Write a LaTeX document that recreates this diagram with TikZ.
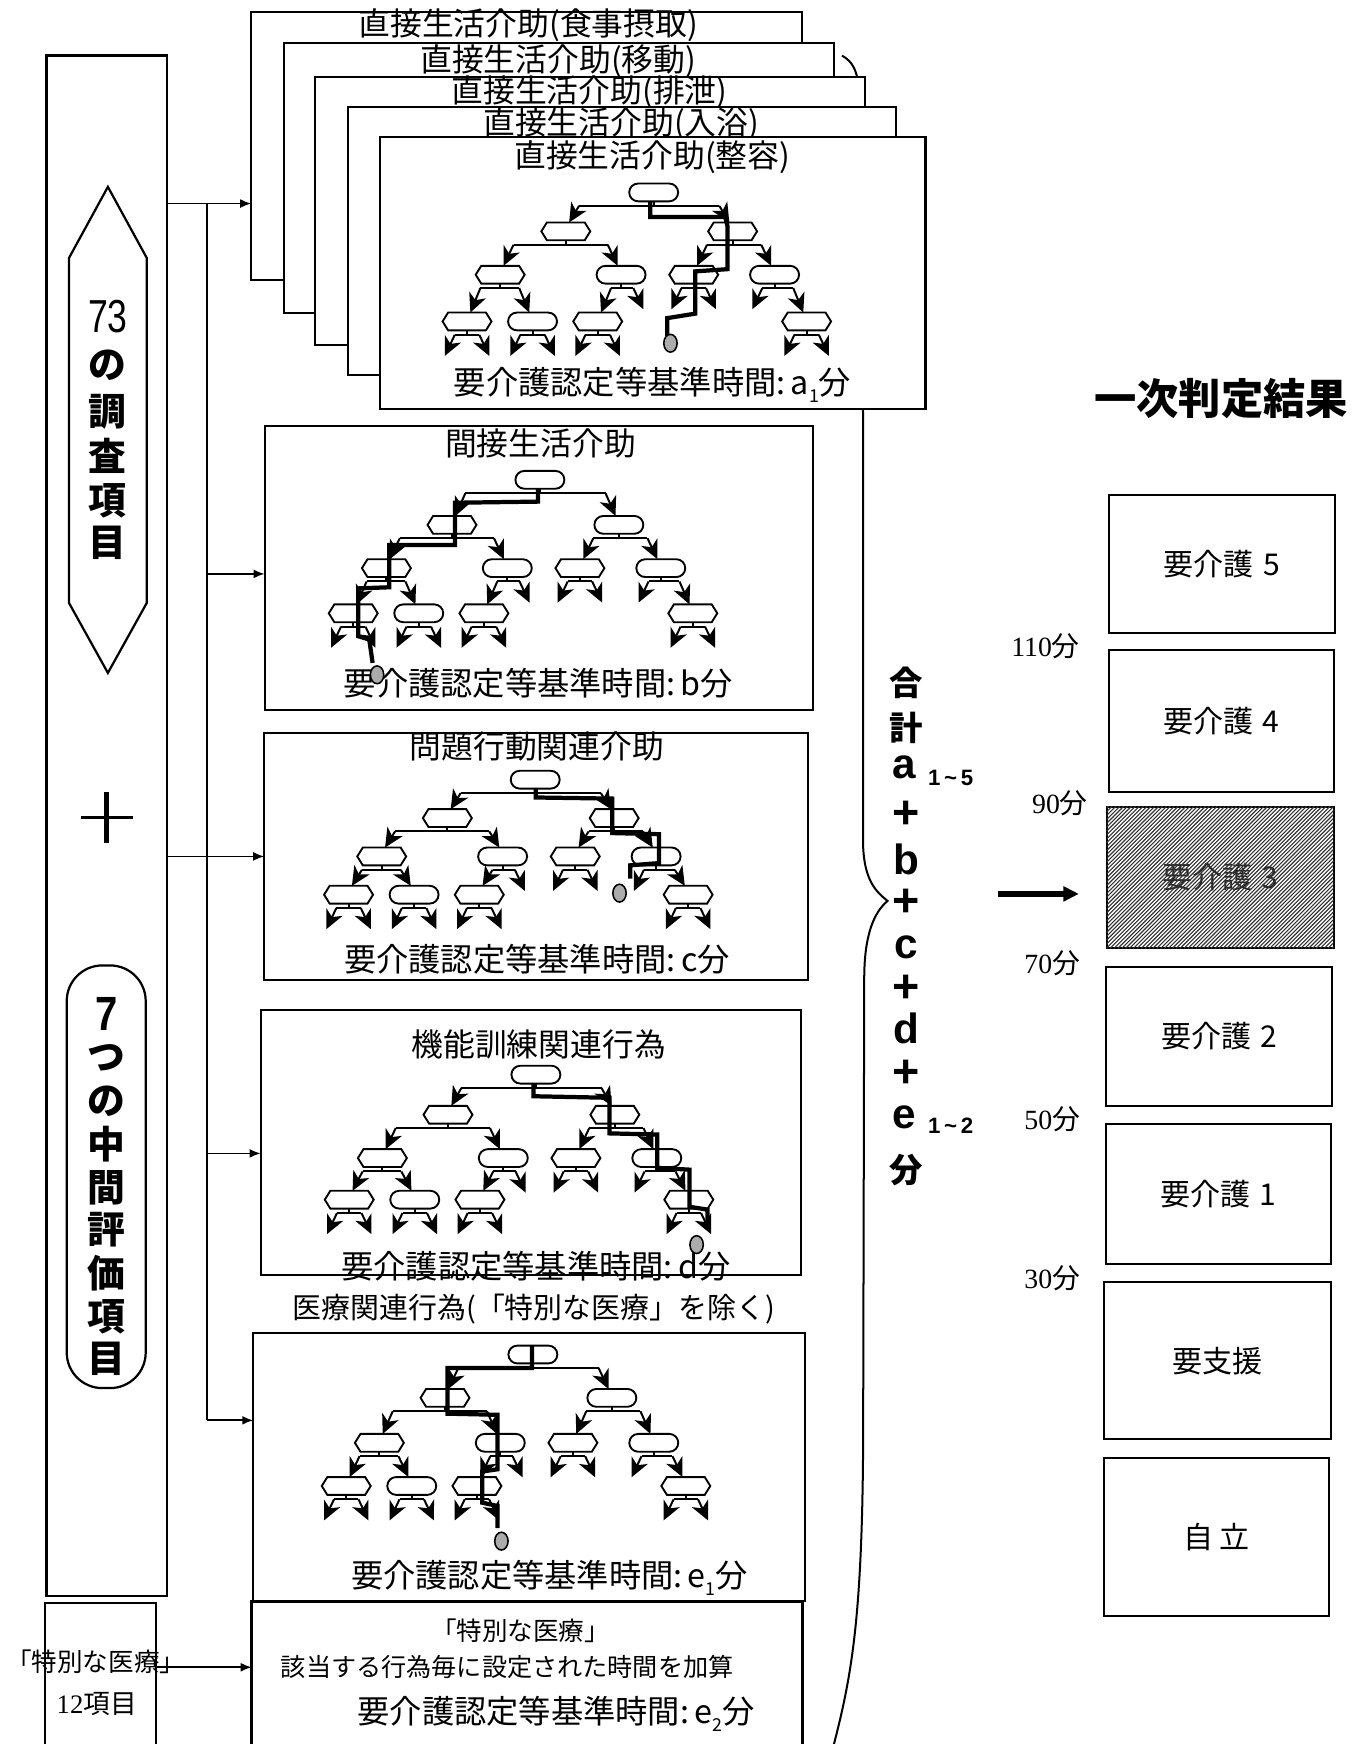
\documentclass[tikz,border=0pt]{standalone}
\usepackage{fontspec}
\usepackage{graphicx}
\setmainfont{Noto Sans CJK JP}
\newfontfamily\lsans{Liberation Sans}
\newfontfamily\lserif{Liberation Serif}
\usetikzlibrary{arrows.meta,fit}
\newcommand\myfs[1]{\fontsize{#1}{#1}\selectfont}
\newcommand\subn[1]{\raisebox{-0.45ex}{\myfs{8}#1}}

\tikzset{
 tl/.style={line width=0.9pt},
 tarr/.style={line width=0.9pt,-{Stealth[length=8.5pt,width=8pt,inset=2.5pt]}},
 hexn/.pic={\draw[line width=0.85pt,fill=white] (-22,0) -- (-17,-8) -- (17,-8) -- (22,0) -- (17,8) -- (-17,8) -- cycle;},
 stadn/.pic={\draw[line width=0.85pt,fill=white,rounded corners=4pt] (-22,-8) rectangle (22,8);},
}

\newcommand\fk[6]{%
 \draw[tl] (#1,#2+8) -- (#1,#2+12) (#3+9,#2+12) -- (#5-9,#2+12);
 \draw[tarr] (#3+9,#2+12) -- (#3,#4);
 \draw[tarr] (#5-9,#2+12) -- (#5,#6);
}

\newcommand\drawtree[6]{%
 \pgfmathsetmacro\Tx{#1}\pgfmathsetmacro\Ty{#2}%
 \pgfmathsetmacro\Ta{#2+#3}\pgfmathsetmacro\Tb{#2+#4}\pgfmathsetmacro\Tc{#2+#5}%
 \pgfmathsetmacro\Tp{#1-79}\pgfmathsetmacro\Tq{#1+71}%
 \pgfmathsetmacro\Tma{#1-138}\pgfmathsetmacro\Tmb{#1-29.3}\pgfmathsetmacro\Tmc{#1+36}\pgfmathsetmacro\Tmd{#1+108.7}%
 \pgfmathsetmacro\Tna{#1-167.8}\pgfmathsetmacro\Tnb{#1-108.9}\pgfmathsetmacro\Tnc{#1-50.3}\pgfmathsetmacro\Tnd{#1+137.5}%
 \fk{\Tx}{\Ty}{\Tp+3}{\Ta-8}{\Tq-3}{\Ta-8}
 \fk{\Tp}{\Ta}{\Tma+3}{\Tb-8}{\Tmb-3}{\Tb-8}
 \fk{\Tq}{\Ta}{\Tmc+3}{\Tb-8}{\Tmd-3}{\Tb-8}
 \fk{\Tma}{\Tb}{\Tna+3}{\Tc-8}{\Tnb-3}{\Tc-8}
 \fk{\Tmb}{\Tb}{\Tnc+3}{\Tc-8}{\Tmb+20}{\Tb+31}
 \fk{\Tmc}{\Tb}{\Tmc-20}{\Tb+31}{\Tmc+20}{\Tb+31}
 \fk{\Tmd}{\Tb}{\Tmd-20}{\Tb+31}{\Tnd-3}{\Tc-8}
 \fk{\Tna}{\Tc}{\Tna-20}{\Tc+31}{\Tna+20}{\Tc+31}
 \fk{\Tnb}{\Tc}{\Tnb-20}{\Tc+31}{\Tnb+20}{\Tc+31}
 \fk{\Tnc}{\Tc}{\Tnc-20}{\Tc+31}{\Tnc+20}{\Tc+31}
 \fk{\Tnd}{\Tc}{\Tnd-20}{\Tc+31}{\Tnd+20}{\Tc+31}
 \pic at (\Tx,\Ty) {stadn};
 \pic at (\Tp,\Ta) {hexn}; \pic at (\Tq,\Ta) {#6};
 \pic at (\Tma,\Tb) {hexn}; \pic at (\Tmb,\Tb) {stadn}; \pic at (\Tmc,\Tb) {hexn}; \pic at (\Tmd,\Tb) {stadn};
 \pic at (\Tna,\Tc) {hexn}; \pic at (\Tnb,\Tc) {stadn}; \pic at (\Tnc,\Tc) {hexn}; \pic at (\Tnd,\Tc) {hexn};
}

\begin{document}
\begin{tikzpicture}[x=0.5pt,y=-0.5pt,
 box/.style={draw, line width=1pt, fill=white, inner sep=0pt, outer sep=0pt},
 rbox/.style={draw, line width=0.9pt, inner sep=0pt, outer sep=0pt},
 ttl/.style={font=\myfs{14.3}, inner sep=0pt},
 btm/.style={font=\myfs{14.5}, inner sep=0pt},
 cl/.style={line width=0.8pt},
 ca/.style={line width=0.8pt, -{Latex[length=5pt,width=4pt]}},
 hl/.style={line width=1.9pt, line join=miter},
 dot/.style={draw, line width=0.7pt, fill=gray!65},
 vt/.style={font=\myfs{17}\bfseries, inner sep=0pt},
 sm/.style={font=\lsans\bfseries\myfs{19}, inner sep=0pt},
 sj/.style={font=\bfseries\myfs{15}, inner sep=0pt},
 sp/.style={font=\lsans\bfseries\myfs{21}, inner sep=0pt},
 ss/.style={font=\lsans\bfseries\myfs{10}, inner sep=0pt, anchor=west},
 rt/.style={font=\myfs{13.5}, inner sep=0pt},
 mn/.style={font=\myfs{12.5}, inner sep=0pt}]
\useasboundingbox (0,0) rectangle (1226,1568);
\fill[white] (0,0) rectangle (1226,1568);

% brace
\coordinate (brtop) at (757,50);
\coordinate (brtip) at (798,810);
\coordinate (brbot) at (748,1575);
\draw[line width=0.9pt] (brtop) .. controls (766,55) and (771,62) .. (773,85) -- (776,380) -- (776,760) .. controls (777,792) and (788,802) .. (brtip) .. controls (786,820) and (777,840) .. (777,880) -- (776,1300) .. controls (775,1460) and (765,1510) .. (brbot);

% stacked boxes a
\node[box, fit={(226,10.5) (721,251.7)}] (b1) {};
\node[ttl] (t1) at (475,23) {直接生活介助(食事摂取)};
\node[box, fit={(255,39) (749.5,281.6)}] (b2) {};
\node[ttl] (t2) at (502,54.6) {直接生活介助(移動)};
\node[box, fit={(283,69.5) (777.7,310)}] (b3) {};
\node[ttl] (t3) at (530,83) {直接生活介助(排泄)};
\node[box, fit={(313,96) (805.8,337)}] (b4) {};
\node[ttl] (t4) at (558.5,111.5) {直接生活介助(入浴)};
\node[box, fit={(341.4,123) (832,367.5)}] (b5) {};
\node[ttl] (t5) at (586.5,141.4) {直接生活介助(整容)};
\node[btm] (t5b) at (586.7,346) {要介護認定等基準時間:\,a\subn{1}分};
\drawtree{587.7}{173}{35}{74}{116}{hexn}
\draw[hl] (584.7,181) -- (584.7,195) -- (652,195) -- (654,203) -- (654,242) -- (625,244) -- (625,282) -- (600,286) -- (600,302);
\draw[dot] (602.8,308.6) ellipse [x radius=3pt, y radius=4pt];

% box b
\node[box, fit={(238,383) (731,638)}] (bb) {};
\node[ttl] (tb) at (486,399) {間接生活介助};
\drawtree{485.4}{431.4}{40.5}{79.4}{120}{stadn}
\node[btm] (tbb) at (484,614) {要介護認定等基準時間:\,b分};
\draw[hl] (483.6,439) -- (483.6,451) -- (409,452) -- (409,490) -- (350,490) -- (350,528) -- (322,529) -- (322,572) -- (332,575) -- (335,596);
\draw[dot] (339,606.7) ellipse [x radius=3pt, y radius=4pt];

% box c
\node[box, fit={(237.6,659) (726.3,880.8)}] (bc) {};
\node[ttl] (tc) at (482.8,671) {問題行動関連介助};
\drawtree{481.2}{701}{34.5}{69}{103.4}{hexn}
\node[btm] (tcb) at (482.8,862.8) {要介護認定等基準時間:\,c分};
\draw[hl] (481.6,709) -- (481.6,717) -- (550.5,718) -- (550.5,749) -- (592.5,750) -- (592.5,776) -- (566.7,778) -- (566.7,790);
\draw[dot] (557,803) ellipse [x radius=3pt, y radius=4pt];

% box d
\node[box, fit={(234.4,907.8) (720,1146)}] (bd) {};
\node[ttl] (td) at (484.4,939) {機能訓練関連行為};
\drawtree{481.8}{966.2}{36}{75}{112.4}{hexn}
\draw[hl] (479.6,974) -- (479.6,985.6) -- (548,987) -- (548,1019) -- (591,1020) -- (591,1050) -- (620,1051.6) -- (620,1085) -- (636,1087.5) -- (636,1105);
\draw[dot] (626.3,1119) ellipse [x radius=3pt, y radius=4pt];
\node[btm] (tdb) at (481.8,1138.5) {要介護認定等基準時間:\,d分};

% box e
\node[inner sep=0pt, font=\myfs{13}] (te) at (480,1177.4) {医療関連行為(「特別な医療」を除く)};
\node[box, fit={(227.8,1198.4) (723.9,1439.5)}] (be1) {};
\drawtree{479.1}{1217.8}{39}{79.4}{118.2}{stadn}
\draw[hl] (478.4,1210) -- (478.4,1230) -- (402.4,1230) -- (402.4,1271) -- (447.3,1272) -- (447.3,1321) -- (433.5,1323) -- (433.5,1351) -- (447.3,1354) -- (447.3,1374);
\draw[dot] (450.8,1385.6) ellipse [x radius=3pt, y radius=4pt];
\node[btm] (teb) at (494,1418.6) {要介護認定等基準時間:\,e\subn{1}分};
\node[box, line width=1.3pt, fit={(226.4,1439.5) (721.3,1590)}] (be2) {};
\node[inner sep=0pt, font=\myfs{11.5}] (tf1) at (468,1466) {「特別な医療」};
\node[inner sep=0pt, font=\myfs{11.3}] (tf2) at (456,1499) {該当する行為毎に設定された時間を加算};
\node[btm] (tf3) at (500,1541) {要介護認定等基準時間:\,e\subn{2}分};

% left column
\node[box, line width=1.2pt, fit={(42,50) (150,1435)}] (lb) {};
\draw[line width=1pt] (97,168) -- (132,232) -- (132,542) -- (97,605) -- (62,542) -- (62,232) -- cycle;
\node[inner sep=0pt] (v0) at (97,285) {\lsans\myfs{16}\scalebox{1}[1.3]{73}};
\foreach \ch/\yy [count=\k] in {の/328,調/370,査/410,項/450,目/488}
  \node[vt] (vc\k) at (97,\yy) {\ch};
\draw[line width=1.6pt] (73,735) -- (120,735);
\draw[line width=2.4pt] (96,712) -- (96,758);
\draw[line width=1pt, rounded corners=16pt] (60,868) rectangle (131,1248);
\node[inner sep=0pt] (w0) at (96,912) {\lsans\bfseries\myfs{18}\scalebox{1}[1.2]{7}};
\foreach \ch/\yy [count=\k] in {つ/951,の/990,中/1029,間/1068,評/1106,価/1145,項/1184,目/1222}
  \node[vt] (wc\k) at (96,\yy) {\ch};
\node[box, fill=none, fit={(40.5,1441) (140,1590)}] (sb) {};
\node[inner sep=0pt, font=\myfs{11.5}] (sbt1) at (86,1494) {「特別な医療」};
\node[inner sep=0pt, font=\myfs{12}] (sbt2) at (87,1532) {{\lserif 12}項目};

% connectors
\coordinate (ya) at (0,183);
\coordinate (yb) at (0,516);
\coordinate (yc) at (0,770);
\coordinate (yd) at (0,1037);
\coordinate (ye) at (0,1277);
\coordinate (ys) at (0,1499);
\coordinate (jx) at (186,0);
\draw[ca] (lb.east |- ya) -- (b1.west |- ya);
\draw[cl] (jx |- ya) -- (jx |- ye);
\draw[ca] (jx |- yb) -- (bb.west |- yb);
\draw[ca] (lb.east |- yc) -- (bc.west |- yc);
\draw[ca] (jx |- yd) -- (bd.west |- yd);
\draw[ca] (jx |- ye) -- (be1.west |- ye);
\draw[ca] (sb.east |- ys) -- (be2.west |- ys);

% sum column
\node[sj] (sg1) at (815,614) {合};
\node[sj] (sg2) at (815,654) {計};
\node[sm] (sa) at (813,690) {a};
\node[ss] (sa1) at (834,699) {1\,\textasciitilde\,5};
\node[sp] (sp1) at (815,733) {+};
\node[sm] (sbx) at (815,773) {b};
\node[sp] (sp2) at (815,812) {+};
\node[sm] (scx) at (815,852) {c};
\node[sp] (sp3) at (815,889) {+};
\node[sm] (sdx) at (815,925) {d};
\node[sp] (sp4) at (815,965) {+};
\node[sm] (sex) at (813,1005) {e};
\node[ss] (se1) at (834,1012) {1\,\textasciitilde\,2};
\node[sj] (sfn) at (815,1052) {分};

% result arrow
\coordinate (ts) at (897,803.7);
\coordinate (tend) at (970,803.7);
\draw[line width=2.5pt, -{Triangle[length=7pt,width=6.5pt]}] (ts) -- (tend);

% right column
\node[inner sep=0pt, font=\bfseries\myfs{19}] (rtitle) at (1098,358) {一次判定結果};
\node[rbox, fit={(997,445) (1200,569.4)}] (r5) {};
\node[rt] (r5t) at (r5.center) {要介護\hspace{0.3em}5};
\node[rbox, fit={(997,584) (1199,712)}] (r4) {};
\node[rt] (r4t) at (r4.center) {要介護\hspace{0.3em}4};
\node[rbox, fit={(995,725.3) (1199,852.7)}] (r3) {};
\node[rt, text=black!85] (r3t) at (r3.center) {要介護\hspace{0.3em}3};
\begin{scope}
 \clip (995,725.3) rectangle (1199,852.7);
 \foreach \i in {-130,-126.5,...,210}
   \draw[line width=0.5pt, black!80] (\i+995,852.7) -- (\i+1123,724.7);
\end{scope}
\node[rbox, fit={(994,869.5) (1198,994)}] (r2) {};
\node[rt] (r2t) at (r2.center) {要介護\hspace{0.3em}2};
\node[rbox, fit={(994,1011) (1197,1136.7)}] (r1) {};
\node[rt] (r1t) at (r1.center) {要介護\hspace{0.3em}1};
\node[rbox, fit={(993,1152.9) (1197,1294)}] (rs) {};
\node[rt] (rst) at (rs.center) {要支援};
\node[rbox, fit={(992.5,1311) (1195,1453)}] (rj) {};
\node[rt] (rjt) at (rj.center) {自\hspace{0.2em}立};
\node[mn] (m110) at (940,581) {{\lserif 110}分};
\node[mn] (m90) at (953,722) {{\lserif 90}分};
\node[mn] (m70) at (946,866) {{\lserif 70}分};
\node[mn] (m50) at (946,1006) {{\lserif 50}分};
\node[mn] (m30) at (946,1149) {{\lserif 30}分};
\end{tikzpicture}
\end{document}
